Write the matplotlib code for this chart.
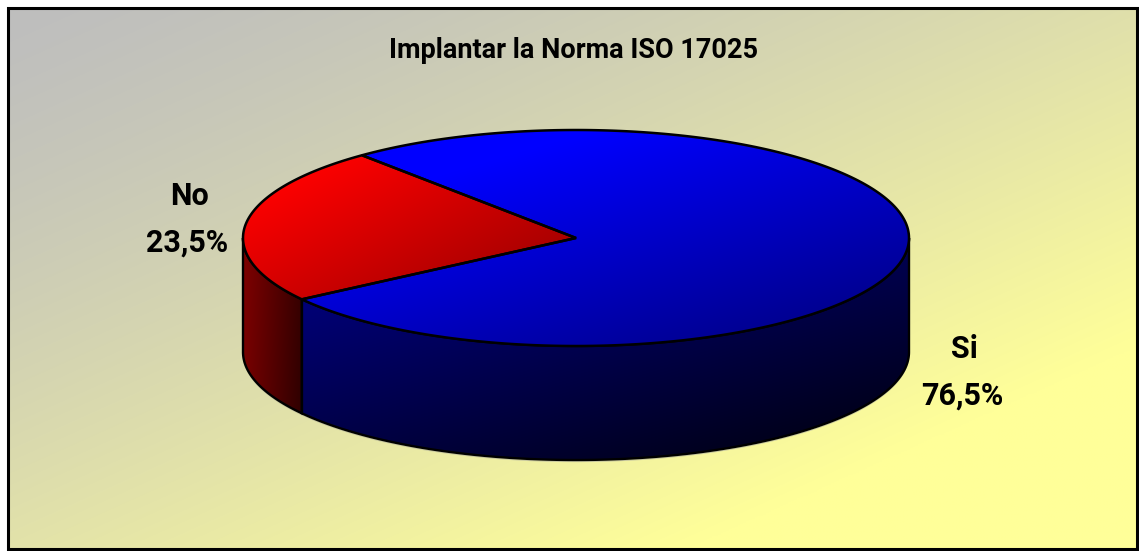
import numpy as np
import matplotlib
matplotlib.use("Agg")
import matplotlib.pyplot as plt
from matplotlib.patches import Polygon, Rectangle
from matplotlib.colors import to_rgb

categories = ["Si", "No"]
values = [76.5, 23.5]
value_labels = ["76,5%", "23,5%"]
title = "Implantar la Norma ISO 17025"

W, H = 1139, 551
CX, CY, RX, RY, DEPTH = 576, 238, 333, 108, 114
START = 130.0  # angle where the "No" slice begins, running counter-clockwise

fig = plt.figure(figsize=(W / 100, H / 100), dpi=100, facecolor="white")
ax = fig.add_axes([0, 0, 1, 1])
ax.set_axis_off()


def gradient(bbox, c0, c1, weights, clip_xy, z, t0=0.0, gamma=1.0):
    x0, y0, x1, y1 = bbox
    n = 400
    xs, ys = np.meshgrid(np.linspace(0, 1, n), np.linspace(0, 1, n))
    t = xs * weights[0] + ys * weights[1]
    t = (np.clip((t - t0) / (1 - t0), 0, 1) ** gamma)[..., None]
    img = np.array(to_rgb(c0)) * (1 - t) + np.array(to_rgb(c1)) * t
    im = ax.imshow(img, extent=(x0, x1, y1, y0), origin="upper", aspect="auto",
                   zorder=z, interpolation="bilinear")
    if clip_xy is not None:
        im.set_clip_path(Polygon(clip_xy, closed=True, transform=ax.transData))
    return im


def arc(a0, a1, dy=0.0, n=200):
    a = np.radians(np.linspace(a0, a1, n))
    return np.column_stack([CX + RX * np.cos(a), CY - RY * np.sin(a) + dy])


# background
gradient((8, 8, 1137, 549), "#BEBEBE", "#FFFF99", (0.60, 0.64), None, 0, gamma=1.3)

# slice angles from the data
no_a0 = START
no_a1 = START + 360 * values[1] / sum(values)
si_a0, si_a1 = no_a1, START + 360

# side walls
red_side = np.vstack([arc(180, no_a1), arc(no_a1, 180, DEPTH)])
blue_side = np.vstack([arc(no_a1, 360), arc(360, no_a1, DEPTH)])
gradient((CX - RX, CY, CX - RX + 62, CY + RY + DEPTH), "#800000", "#280000", (0.85, 0.15), red_side, 2)
gradient((CX - RX + 60, CY, CX + RX, CY + RY + DEPTH), "#00008C", "#000010", (0.45, 0.6), blue_side, 2)
rim = arc(360, 180, DEPTH + 1.6)
ax.plot(rim[:, 0], rim[:, 1], color="#C8C8A0", lw=0.8, zorder=1.5)
for xy in (red_side, blue_side):
    ax.add_patch(Polygon(xy, closed=True, fill=False, ec="black", lw=1.7, zorder=3))

# top faces
red_top = np.vstack([[CX, CY], arc(no_a0, no_a1)])
blue_top = np.vstack([[CX, CY], arc(si_a0, si_a1, n=500)])
gradient((CX - RX, CY - RY, CX, CY + 62), "#FF0000", "#900000", (0.5, 0.5), red_top, 4, t0=0.2)
gradient((CX - RX + 60, CY - RY, CX + RX, CY + RY), "#0000FF", "#000078", (0.45, 0.55), blue_top, 4, t0=0.22)
for xy in (red_top, blue_top):
    ax.add_patch(Polygon(xy, closed=True, fill=False, ec="black", lw=1.8, zorder=5))

# frame
ax.add_patch(Rectangle((8, 8), 1129, 541, fill=False, ec="black", lw=2.2, zorder=6))

font = ["Roboto", "Liberation Sans", "DejaVu Sans"]
ax.text(574, 51, title, ha="center", va="center", fontsize=19.5, fontweight="bold",
        family=font, zorder=7)
label_pos = {"No": ((189, 196), (187, 243)), "Si": ((964, 349), (962, 396))}
for c, v in zip(categories, value_labels):
    p0, p1 = label_pos[c]
    ax.text(*p0, c, ha="center", va="center", fontsize=22, fontweight="bold", family=font, zorder=7)
    ax.text(*p1, v, ha="center", va="center", fontsize=22, fontweight="bold", family=font, zorder=7)

ax.set_xlim(0, W)
ax.set_ylim(H, 0)
fig.savefig("out.png", dpi=100, facecolor="white")
